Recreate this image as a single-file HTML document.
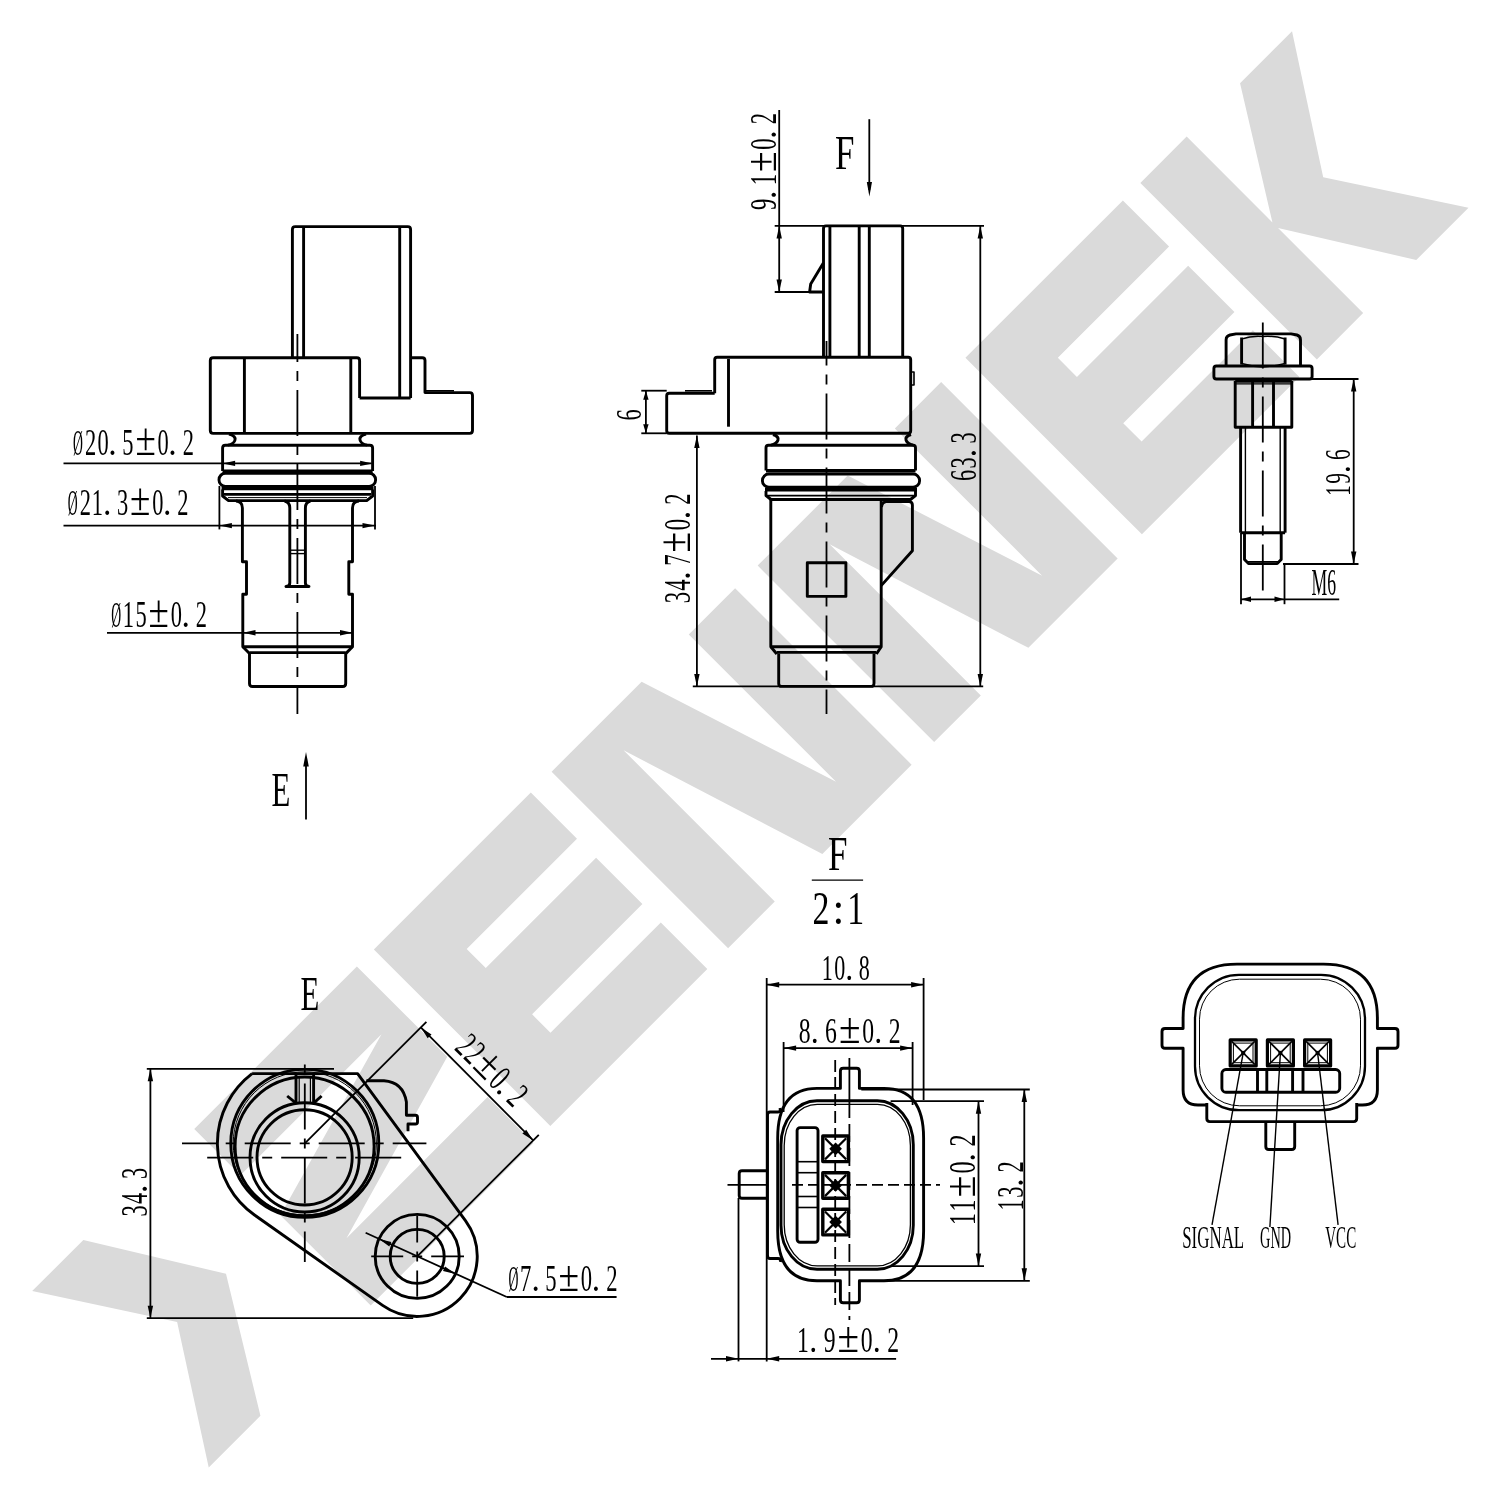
<!DOCTYPE html>
<html><head><meta charset="utf-8"><style>
html,body{margin:0;padding:0;background:#fff;}
svg{display:block;will-change:transform;}
text{fill:#000;stroke:none;text-anchor:start;}
</style></head><body>
<svg width="1500" height="1500" viewBox="0 0 1500 1500">
<rect width="1500" height="1500" fill="#fff"/>
<g transform="rotate(-45)" fill="#dadada">
<polygon points="-890.2,935.7 -817.8,935.7 -740.9,1060.5 -817.0,1185.3 -890.1,1185.3 -809.5,1060.0"/>
<polygon points="-661.0,935.7 -431.0,935.7 -431.0,1063.5 -630.5,1120.5 -431.0,1120.5 -431.0,1185.3 -661.0,1185.3 -661.0,1057.5 -461.5,1001.0 -661.0,1001.0"/>
<polygon points="-407.0,935.7 -185.0,935.7 -185.0,1001.0 -341.0,1001.0 -341.0,1028.0 -185.0,1028.0 -185.0,1093.5 -341.0,1093.5 -341.0,1119.5 -185.0,1119.5 -185.0,1185.3 -407.0,1185.3"/>
<polygon points="-155.6,935.7 -28.3,935.7 38.4,1144.0 38.4,935.7 103.9,935.7 103.9,1185.3 -22.3,1185.3 -89.6,971.5 -89.6,1185.3 -155.6,1185.3"/>
<polygon points="135.8,935.7 263.1,935.7 329.8,1144.0 329.8,935.7 395.3,935.7 395.3,1185.3 269.1,1185.3 201.8,971.5 201.8,1185.3 135.8,1185.3"/>
<polygon points="429.6,935.7 652.3,935.7 652.3,1001.0 495.0,1001.0 495.0,1028.0 652.3,1028.0 652.3,1093.5 495.0,1093.5 495.0,1119.5 652.3,1119.5 652.3,1185.3 429.6,1185.3"/>
<polygon points="677.0,935.7 742.5,935.7 742.5,1057.0 818.0,935.7 891.5,935.7 810.3,1061.0 891.5,1185.3 817.6,1185.3 742.5,1065.0 742.5,1185.3 677.0,1185.3"/>
</g>
<g stroke="#000" fill="none" stroke-linecap="butt" stroke-linejoin="round">
<path d="M292.4,357.8 V229.4 Q292.4,226.6 295.2,226.6 H407.8 Q410.6,226.6 410.6,229.4 V398" stroke-width="2.9" fill="none"/>
<line x1="303.6" y1="226.6" x2="303.6" y2="357.8" stroke-width="2.9"/>
<line x1="399.7" y1="226.6" x2="399.7" y2="398.0" stroke-width="2.9"/>
<path d="M359.6,398 V360.6 Q359.6,357.8 356.8,357.8 H213.1 Q210.3,357.8 210.3,360.6 V430.6 Q210.3,433.4 213.1,433.4 H469.7 Q472.5,433.4 472.5,430.6 V395.5 Q472.5,392.6 469.7,392.6 H425 V360.6 Q425,357.8 422.2,357.8 H410.6" stroke-width="2.9" fill="none"/>
<line x1="359.6" y1="398.0" x2="410.6" y2="398.0" stroke-width="2.9"/>
<line x1="244.4" y1="357.8" x2="244.4" y2="433.4" stroke-width="2.9"/>
<line x1="350.8" y1="357.8" x2="350.8" y2="433.4" stroke-width="2.9"/>
<line x1="426.0" y1="390.8" x2="454.0" y2="390.8" stroke-width="1.6"/>
<path d="M229,434 Q236,436 235,440 Q234,444 228,445.2" stroke-width="2.9" fill="none"/>
<path d="M366,434 Q359,436 360,440 Q361,444 367,445.2" stroke-width="2.9" fill="none"/>
<path d="M222.6,471 V448 Q222.6,445.2 225.4,445.2 H369.8 Q372.6,445.2 372.6,448 V471" stroke-width="2.9" fill="none"/>
<line x1="222.6" y1="471.3" x2="372.6" y2="471.3" stroke-width="3.6"/>
<rect x="219.0" y="473.2" width="156.6" height="13.2" rx="6.5" stroke-width="2.9" fill="none"/>
<line x1="221.6" y1="488.4" x2="373.6" y2="488.4" stroke-width="3.6"/>
<path d="M222.6,489.5 V496 L228.5,500.6 H366.7 L372.6,496 V489.5" stroke-width="2.9" fill="none"/>
<line x1="224.0" y1="494.4" x2="371.0" y2="494.4" stroke-width="2.6"/>
<line x1="228.0" y1="497.6" x2="367.0" y2="497.6" stroke-width="1.0"/>
<path d="M236,501 Q242.4,501.5 242.4,508 V561.7 H246.5 V594.3 H242.8 V646.8 H352.5 V594.3 H348.8 V561.7 H352.5 V508 Q352.5,501.5 359,501" stroke-width="2.9" fill="none"/>
<line x1="242.8" y1="646.8" x2="249.5" y2="653.6" stroke-width="2.9"/>
<line x1="352.5" y1="646.8" x2="345.7" y2="653.6" stroke-width="2.9"/>
<line x1="249.5" y1="652.6" x2="345.7" y2="652.6" stroke-width="2.9"/>
<path d="M249.5,653 V683.5 Q249.5,686.5 252.5,686.5 H342.7 Q345.7,686.5 345.7,683.5 V653" stroke-width="2.9" fill="none"/>
<path d="M284.5,501 Q289.8,502 289.8,508 V583 Q289.8,586 286,586.5 H309 Q305.4,586 305.4,583 V508 Q305.4,502 310.5,501" stroke-width="2.9" fill="none"/>
<line x1="289.8" y1="550.2" x2="305.4" y2="550.2" stroke-width="1.4"/>
<line x1="289.8" y1="553.6" x2="305.4" y2="553.6" stroke-width="1.4"/>
<line x1="297.4" y1="334.0" x2="297.4" y2="714.0" stroke-width="1.8" stroke-dasharray="46,9,10,9" stroke-dashoffset="18.1"/>
<line x1="63.5" y1="463.4" x2="371.5" y2="463.4" stroke-width="1.8"/>
<polygon points="222.6,463.4 235.1,460.7 235.1,466.1" fill="#000" stroke="none"/>
<polygon points="372.6,463.4 360.1,466.1 360.1,460.7" fill="#000" stroke="none"/>
<text transform="translate(78.0,455.3) scale(0.366,0.960)" x="-13.5" font-size="37.4" font-family="Liberation Serif">Ø</text><text transform="translate(90.5,455.3) scale(0.600,1.000)" x="-9.1" font-size="37.4" font-family="Liberation Serif">2</text><text transform="translate(103.0,455.3) scale(0.600,1.000)" x="-9.3" font-size="37.4" font-family="Liberation Serif">0</text><text transform="translate(112.5,455.3) scale(0.900,1.000)" x="-4.7" font-size="37.4" font-family="Liberation Serif">.</text><text transform="translate(128.1,455.3) scale(0.600,1.000)" x="-9.7" font-size="37.4" font-family="Liberation Serif">5</text><text transform="translate(145.6,455.3) scale(0.993,1.220)" x="-10.3" font-size="37.4" font-family="Liberation Serif">±</text><text transform="translate(163.1,455.3) scale(0.600,1.000)" x="-9.3" font-size="37.4" font-family="Liberation Serif">0</text><text transform="translate(172.6,455.3) scale(0.900,1.000)" x="-4.7" font-size="37.4" font-family="Liberation Serif">.</text><text transform="translate(188.1,455.3) scale(0.600,1.000)" x="-9.1" font-size="37.4" font-family="Liberation Serif">2</text>
<line x1="63.5" y1="525.6" x2="376.0" y2="525.6" stroke-width="1.8"/>
<line x1="219.4" y1="486.0" x2="219.4" y2="529.4" stroke-width="1.8"/>
<line x1="375.0" y1="486.0" x2="375.0" y2="529.4" stroke-width="1.8"/>
<polygon points="219.4,525.6 231.9,522.9 231.9,528.3" fill="#000" stroke="none"/>
<polygon points="375.0,525.6 362.5,528.3 362.5,522.9" fill="#000" stroke="none"/>
<text transform="translate(72.8,515.3) scale(0.366,0.960)" x="-13.5" font-size="37.4" font-family="Liberation Serif">Ø</text><text transform="translate(85.2,515.3) scale(0.600,1.000)" x="-9.1" font-size="37.4" font-family="Liberation Serif">2</text><text transform="translate(97.8,515.3) scale(0.600,1.000)" x="-9.9" font-size="37.4" font-family="Liberation Serif">1</text><text transform="translate(107.2,515.3) scale(0.900,1.000)" x="-4.7" font-size="37.4" font-family="Liberation Serif">.</text><text transform="translate(122.8,515.3) scale(0.600,1.000)" x="-9.5" font-size="37.4" font-family="Liberation Serif">3</text><text transform="translate(140.2,515.3) scale(0.993,1.220)" x="-10.3" font-size="37.4" font-family="Liberation Serif">±</text><text transform="translate(157.8,515.3) scale(0.600,1.000)" x="-9.3" font-size="37.4" font-family="Liberation Serif">0</text><text transform="translate(167.2,515.3) scale(0.900,1.000)" x="-4.7" font-size="37.4" font-family="Liberation Serif">.</text><text transform="translate(182.8,515.3) scale(0.600,1.000)" x="-9.1" font-size="37.4" font-family="Liberation Serif">2</text>
<line x1="107.0" y1="632.8" x2="352.5" y2="632.8" stroke-width="1.8"/>
<polygon points="243.0,632.8 255.5,630.1 255.5,635.5" fill="#000" stroke="none"/>
<polygon points="352.5,632.8 340.0,635.5 340.0,630.1" fill="#000" stroke="none"/>
<text transform="translate(116.2,626.5) scale(0.366,0.960)" x="-13.5" font-size="37.4" font-family="Liberation Serif">Ø</text><text transform="translate(128.8,626.5) scale(0.600,1.000)" x="-9.9" font-size="37.4" font-family="Liberation Serif">1</text><text transform="translate(141.2,626.5) scale(0.600,1.000)" x="-9.7" font-size="37.4" font-family="Liberation Serif">5</text><text transform="translate(158.8,626.5) scale(0.993,1.220)" x="-10.3" font-size="37.4" font-family="Liberation Serif">±</text><text transform="translate(176.2,626.5) scale(0.600,1.000)" x="-9.3" font-size="37.4" font-family="Liberation Serif">0</text><text transform="translate(185.8,626.5) scale(0.900,1.000)" x="-4.7" font-size="37.4" font-family="Liberation Serif">.</text><text transform="translate(201.2,626.5) scale(0.600,1.000)" x="-9.1" font-size="37.4" font-family="Liberation Serif">2</text>
<line x1="306.0" y1="758.0" x2="306.0" y2="819.5" stroke-width="1.8"/>
<polygon points="306.0,752.0 308.8,766.5 303.2,766.5" fill="#000" stroke="none"/>
<text transform="translate(280.5,806.0) scale(0.637,1.000)" x="-14.3" font-size="48.4" font-family="Liberation Serif">E</text>
<path d="M823.5,357.3 V228.4 Q823.5,225.9 826,225.9 H900.2 Q902.7,225.9 902.7,228.4 V357.3" stroke-width="2.9" fill="none"/>
<line x1="829.9" y1="225.9" x2="829.9" y2="357.3" stroke-width="2.9"/>
<line x1="859.2" y1="225.9" x2="859.2" y2="357.3" stroke-width="2.9"/>
<line x1="869.3" y1="225.9" x2="869.3" y2="357.3" stroke-width="2.9"/>
<path d="M823.5,262.7 L810.7,284 L809.6,292 H823.5" stroke-width="2.9" fill="none"/>
<line x1="774.7" y1="225.9" x2="984.0" y2="225.9" stroke-width="1.8"/>
<line x1="774.7" y1="292.0" x2="822.7" y2="292.0" stroke-width="1.8"/>
<line x1="779.2" y1="110.0" x2="779.2" y2="292.0" stroke-width="1.8"/>
<polygon points="779.2,225.9 781.9,238.4 776.5,238.4" fill="#000" stroke="none"/>
<polygon points="779.2,292.0 776.5,279.5 781.9,279.5" fill="#000" stroke="none"/>
<line x1="869.3" y1="119.2" x2="869.3" y2="190.0" stroke-width="1.8"/>
<polygon points="869.4,196.5 866.8,182.1 872.0,182.1" fill="#000" stroke="none"/>
<text transform="translate(844.5,169.3) scale(0.720,1.000)" x="-13.3" font-size="48.5" font-family="Liberation Serif">F</text>
<path d="M714.7,393.3 V359.8 Q714.7,357.3 717.2,357.3 H908.2 Q910.7,357.3 910.7,359.8 V430.8 Q910.7,433.3 908.2,433.3 H669.2 Q666.7,433.3 666.7,430.8 V395.8 Q666.7,393.3 669.2,393.3 H714.7" stroke-width="2.9" fill="none"/>
<line x1="685.0" y1="390.8" x2="712.0" y2="390.8" stroke-width="1.6"/>
<line x1="728.5" y1="359.0" x2="728.5" y2="426.7" stroke-width="2.9"/>
<rect x="911.2" y="372.0" width="2.8" height="13.0" rx="0" stroke-width="1.6" fill="none"/>
<path d="M773,434.5 Q779,436.5 778,440 Q777,443.5 771,445.2" stroke-width="2.9" fill="none"/>
<path d="M911,434.5 Q905,436.5 906,440 Q907,443.5 913,445.2" stroke-width="2.9" fill="none"/>
<path d="M766,470.6 V447.7 Q766,445.2 768.5,445.2 H913 Q915.5,445.2 915.5,447.7 V470.6" stroke-width="2.9" fill="none"/>
<line x1="766.0" y1="470.8" x2="915.5" y2="470.8" stroke-width="3.6"/>
<rect x="762.4" y="474.0" width="157.2" height="13.2" rx="6.5" stroke-width="2.9" fill="none"/>
<line x1="765.0" y1="489.6" x2="917.0" y2="489.6" stroke-width="3.6"/>
<path d="M766,491 V495.5 L771,499.5 H910.5 L915.5,495.5 V491" stroke-width="2.9" fill="none"/>
<line x1="767.0" y1="495.6" x2="914.0" y2="495.6" stroke-width="1.8"/>
<path d="M770.8,499.5 V646.8 H881.2 V499.5" stroke-width="2.9" fill="none"/>
<path d="M881.2,585.6 L912.4,550.8 V505 Q912.4,501.6 909,501.6 H886 Q882,502.5 881.5,507" stroke-width="2.9" fill="none"/>
<line x1="770.8" y1="646.8" x2="776.8" y2="654.0" stroke-width="2.9"/>
<line x1="881.2" y1="646.8" x2="876.4" y2="654.0" stroke-width="2.9"/>
<line x1="776.8" y1="652.4" x2="876.4" y2="652.4" stroke-width="2.9"/>
<path d="M778.7,653.5 V683.4 Q778.7,686.4 781.7,686.4 H871 Q874,686.4 874,683.4 V653.5" stroke-width="2.9" fill="none"/>
<rect x="807.3" y="562.8" width="38.6" height="33.6" rx="0" stroke-width="2.9" fill="none"/>
<line x1="826.5" y1="341.0" x2="826.5" y2="714.0" stroke-width="1.8" stroke-dasharray="46,9,10,9" stroke-dashoffset="21.6"/>
<line x1="696.9" y1="435.6" x2="696.9" y2="686.4" stroke-width="1.8"/>
<polygon points="696.9,435.6 699.6,448.1 694.2,448.1" fill="#000" stroke="none"/>
<polygon points="696.9,686.4 694.2,673.9 699.6,673.9" fill="#000" stroke="none"/>
<line x1="692.8" y1="686.4" x2="983.2" y2="686.4" stroke-width="1.8"/>
<line x1="980.3" y1="225.9" x2="980.3" y2="686.4" stroke-width="1.8"/>
<polygon points="980.3,225.9 983.0,238.4 977.6,238.4" fill="#000" stroke="none"/>
<polygon points="980.3,686.4 977.6,673.9 983.0,673.9" fill="#000" stroke="none"/>
<line x1="645.9" y1="390.7" x2="645.9" y2="433.3" stroke-width="1.8"/>
<polygon points="645.9,390.7 648.6,399.7 643.2,399.7" fill="#000" stroke="none"/>
<polygon points="645.9,433.3 643.2,424.3 648.6,424.3" fill="#000" stroke="none"/>
<line x1="641.3" y1="390.7" x2="666.7" y2="390.7" stroke-width="1.8"/>
<line x1="641.3" y1="433.3" x2="666.7" y2="433.3" stroke-width="1.8"/>
<g transform="rotate(-90 776.0 209.3)"><text transform="translate(780.8,209.3) scale(0.612,1.000)" x="-9.1" font-size="37.0" font-family="Liberation Serif">9</text><text transform="translate(790.4,209.3) scale(0.900,1.000)" x="-4.6" font-size="37.0" font-family="Liberation Serif">.</text><text transform="translate(806.0,209.3) scale(0.612,1.000)" x="-9.7" font-size="37.0" font-family="Liberation Serif">1</text><text transform="translate(823.6,209.3) scale(1.013,1.220)" x="-10.1" font-size="37.0" font-family="Liberation Serif">±</text><text transform="translate(841.3,209.3) scale(0.612,1.000)" x="-9.2" font-size="37.0" font-family="Liberation Serif">0</text><text transform="translate(850.8,209.3) scale(0.900,1.000)" x="-4.6" font-size="37.0" font-family="Liberation Serif">.</text><text transform="translate(866.5,209.3) scale(0.612,1.000)" x="-9.0" font-size="37.0" font-family="Liberation Serif">2</text></g>
<g transform="rotate(-90 641.0 419.5)"><text transform="translate(645.8,419.5) scale(0.633,1.000)" x="-9.1" font-size="35.5" font-family="Liberation Serif">6</text></g>
<g transform="rotate(-90 690.4 602.4)"><text transform="translate(695.2,602.4) scale(0.589,1.000)" x="-9.8" font-size="38.5" font-family="Liberation Serif">3</text><text transform="translate(707.8,602.4) scale(0.589,1.000)" x="-9.7" font-size="38.5" font-family="Liberation Serif">4</text><text transform="translate(717.4,602.4) scale(0.900,1.000)" x="-4.8" font-size="38.5" font-family="Liberation Serif">.</text><text transform="translate(733.0,602.4) scale(0.589,1.000)" x="-10.3" font-size="38.5" font-family="Liberation Serif">7</text><text transform="translate(750.6,602.4) scale(0.974,1.220)" x="-10.5" font-size="38.5" font-family="Liberation Serif">±</text><text transform="translate(768.3,602.4) scale(0.589,1.000)" x="-9.6" font-size="38.5" font-family="Liberation Serif">0</text><text transform="translate(777.8,602.4) scale(0.900,1.000)" x="-4.8" font-size="38.5" font-family="Liberation Serif">.</text><text transform="translate(793.5,602.4) scale(0.589,1.000)" x="-9.4" font-size="38.5" font-family="Liberation Serif">2</text></g>
<g transform="rotate(-90 976.0 480.0)"><text transform="translate(980.8,480.0) scale(0.607,1.000)" x="-9.5" font-size="37.0" font-family="Liberation Serif">6</text><text transform="translate(993.2,480.0) scale(0.607,1.000)" x="-9.4" font-size="37.0" font-family="Liberation Serif">3</text><text transform="translate(1002.8,480.0) scale(0.900,1.000)" x="-4.6" font-size="37.0" font-family="Liberation Serif">.</text><text transform="translate(1018.2,480.0) scale(0.607,1.000)" x="-9.4" font-size="37.0" font-family="Liberation Serif">3</text></g>
<path d="M1226.1,366 V340 Q1226.1,336 1230,335 L1236,333.9 H1291 L1297,335 Q1300.5,336 1300.5,340 V366" stroke-width="2.9" fill="none"/>
<line x1="1241.6" y1="337.5" x2="1241.6" y2="364.5" stroke-width="2.9"/>
<line x1="1285.1" y1="337.5" x2="1285.1" y2="364.5" stroke-width="2.9"/>
<path d="M1241.6,339 Q1252,335.5 1262.8,336.5 Q1274,335.5 1285.1,339" stroke-width="1.4" fill="none"/>
<path d="M1241.6,363.5 Q1252,366.5 1262.8,367 Q1274,366.5 1285.1,363.5" stroke-width="1.4" fill="none"/>
<rect x="1213.9" y="366.0" width="98.2" height="13.0" rx="2.5" stroke-width="2.9" fill="none"/>
<path d="M1235.2,381 V427.3 H1291.8 V381" stroke-width="2.9" fill="none"/>
<line x1="1235.2" y1="381.2" x2="1291.8" y2="381.2" stroke-width="2.9"/>
<line x1="1236.0" y1="383.8" x2="1291.0" y2="383.8" stroke-width="1.2"/>
<line x1="1252.6" y1="382.0" x2="1252.6" y2="427.3" stroke-width="2.9"/>
<line x1="1273.5" y1="382.0" x2="1273.5" y2="427.3" stroke-width="2.9"/>
<line x1="1240.6" y1="427.3" x2="1240.6" y2="532.7" stroke-width="2.9"/>
<line x1="1285.1" y1="427.3" x2="1285.1" y2="532.7" stroke-width="2.9"/>
<line x1="1245.4" y1="427.3" x2="1245.4" y2="532.7" stroke-width="1.4"/>
<line x1="1280.2" y1="427.3" x2="1280.2" y2="532.7" stroke-width="1.4"/>
<line x1="1240.6" y1="532.7" x2="1285.1" y2="532.7" stroke-width="2.9"/>
<path d="M1244.5,532.7 V559.5 L1248.5,563.6 H1277.2 L1281.2,559.5 V532.7" stroke-width="2.9" fill="none"/>
<line x1="1246.0" y1="561.8" x2="1280.0" y2="561.8" stroke-width="1.6"/>
<line x1="1262.8" y1="320.0" x2="1262.8" y2="592.6" stroke-width="1.8" stroke-dasharray="46,9,10,9" stroke-dashoffset="71.6"/>
<line x1="1312.0" y1="379.0" x2="1358.5" y2="379.0" stroke-width="1.8"/>
<line x1="1283.0" y1="564.0" x2="1358.5" y2="564.0" stroke-width="1.8"/>
<line x1="1353.7" y1="379.0" x2="1353.7" y2="564.0" stroke-width="1.8"/>
<polygon points="1353.7,379.0 1356.4,391.5 1351.0,391.5" fill="#000" stroke="none"/>
<polygon points="1353.7,564.0 1351.0,551.5 1356.4,551.5" fill="#000" stroke="none"/>
<g transform="rotate(-90 1349.8 495.0)"><text transform="translate(1354.4,495.0) scale(0.595,1.000)" x="-9.5" font-size="36.2" font-family="Liberation Serif">1</text><text transform="translate(1366.4,495.0) scale(0.595,1.000)" x="-8.9" font-size="36.2" font-family="Liberation Serif">9</text><text transform="translate(1375.5,495.0) scale(0.900,1.000)" x="-4.5" font-size="36.2" font-family="Liberation Serif">.</text><text transform="translate(1390.4,495.0) scale(0.595,1.000)" x="-9.3" font-size="36.2" font-family="Liberation Serif">6</text></g>
<line x1="1241.0" y1="532.7" x2="1241.0" y2="604.2" stroke-width="1.8"/>
<line x1="1284.5" y1="564.0" x2="1284.5" y2="604.2" stroke-width="1.8"/>
<line x1="1241.0" y1="599.3" x2="1339.2" y2="599.3" stroke-width="1.8"/>
<polygon points="1241.0,599.3 1251.0,596.6 1251.0,602.0" fill="#000" stroke="none"/>
<polygon points="1284.5,599.3 1274.5,602.0 1274.5,596.6" fill="#000" stroke="none"/>
<text x="1311.5" y="594.6" font-size="36.9" font-family="Liberation Serif" textLength="24.5" lengthAdjust="spacingAndGlyphs">M6</text>
<path d="M252.1,1073.6 H357.6 L465.6,1220.9 A60.0,60.0 0 0 1 382.6,1305.4 L254.5,1215.0 A87.6,87.6 0 0 1 252.1,1073.6" stroke-width="2.9" fill="none"/>
<circle cx="304.8" cy="1143.4" r="74.0" stroke-width="2.9" fill="none"/>
<circle cx="304.8" cy="1143.4" r="71.6" stroke-width="1.0" fill="none"/>
<circle cx="304.6" cy="1146.5" r="69.5" stroke-width="2.9" fill="none"/>
<circle cx="304.6" cy="1157.4" r="54.6" stroke-width="2.9" fill="none"/>
<circle cx="304.6" cy="1157.4" r="47.6" stroke-width="2.9" fill="none"/>
<line x1="296.0" y1="1075.0" x2="296.0" y2="1103.2" stroke-width="2.9"/>
<line x1="313.6" y1="1075.0" x2="313.6" y2="1103.2" stroke-width="2.9"/>
<line x1="299.2" y1="1076.0" x2="299.2" y2="1103.0" stroke-width="1.2"/>
<line x1="310.4" y1="1076.0" x2="310.4" y2="1103.0" stroke-width="1.2"/>
<line x1="287.2" y1="1096.0" x2="296.0" y2="1103.2" stroke-width="2.9"/>
<line x1="321.6" y1="1096.0" x2="313.6" y2="1103.2" stroke-width="2.9"/>
<path d="M366.4,1080.8 H384 Q403,1082 406.4,1102 V1115.2 H415.5 Q417.5,1115.2 417.5,1117.5 V1122 Q417.5,1124 415.5,1124 H408 V1131.2" stroke-width="2.9" fill="none"/>
<circle cx="417.2" cy="1256.4" r="42.0" stroke-width="2.9" fill="none"/>
<circle cx="417.2" cy="1256.4" r="27.0" stroke-width="2.9" fill="none"/>
<line x1="182.0" y1="1143.4" x2="426.4" y2="1143.4" stroke-width="1.8" stroke-dasharray="46,9,10,9" stroke-dashoffset="11.3"/>
<line x1="203.2" y1="1157.6" x2="405.6" y2="1157.6" stroke-width="1.8" stroke-dasharray="46,9,10,9" stroke-dashoffset="70.0"/>
<line x1="304.8" y1="1056.0" x2="304.8" y2="1262.0" stroke-width="1.8" stroke-dasharray="46,9,10,9" stroke-dashoffset="46.6"/>
<line x1="371.2" y1="1256.4" x2="464.0" y2="1256.4" stroke-width="1.8" stroke-dasharray="46,9,10,9" stroke-dashoffset="14.0"/>
<line x1="417.2" y1="1215.6" x2="417.2" y2="1296.8" stroke-width="1.8" stroke-dasharray="46,9,10,9" stroke-dashoffset="19.2"/>
<line x1="146.8" y1="1068.8" x2="334.0" y2="1068.8" stroke-width="1.8"/>
<line x1="146.8" y1="1318.2" x2="413.2" y2="1318.2" stroke-width="1.8"/>
<line x1="150.4" y1="1068.8" x2="150.4" y2="1318.2" stroke-width="1.8"/>
<polygon points="150.4,1068.8 153.1,1081.3 147.7,1081.3" fill="#000" stroke="none"/>
<polygon points="150.4,1318.2 147.7,1305.7 153.1,1305.7" fill="#000" stroke="none"/>
<g transform="rotate(-90 146.8 1215.6)"><text transform="translate(151.6,1215.6) scale(0.607,1.000)" x="-9.4" font-size="37.0" font-family="Liberation Serif">3</text><text transform="translate(164.1,1215.6) scale(0.607,1.000)" x="-9.3" font-size="37.0" font-family="Liberation Serif">4</text><text transform="translate(173.6,1215.6) scale(0.900,1.000)" x="-4.6" font-size="37.0" font-family="Liberation Serif">.</text><text transform="translate(189.1,1215.6) scale(0.607,1.000)" x="-9.4" font-size="37.0" font-family="Liberation Serif">3</text></g>
<line x1="304.8" y1="1143.4" x2="426.4" y2="1021.8" stroke-width="1.8"/>
<line x1="417.2" y1="1256.4" x2="538.8" y2="1134.8" stroke-width="1.8"/>
<line x1="420.8" y1="1027.4" x2="533.2" y2="1140.4" stroke-width="1.8"/>
<polygon points="420.8,1027.4 431.5,1034.4 427.7,1038.2" fill="#000" stroke="none"/>
<polygon points="533.2,1140.4 522.4,1133.5 526.2,1129.7" fill="#000" stroke="none"/>
<g transform="translate(454.0,1049.4) rotate(45)"><text transform="translate(4.8,0.0) scale(0.612,1.000)" x="-9.0" font-size="37.0" font-family="Liberation Serif">2</text><text transform="translate(17.4,0.0) scale(0.612,1.000)" x="-9.0" font-size="37.0" font-family="Liberation Serif">2</text><text transform="translate(35.0,0.0) scale(1.013,1.220)" x="-10.1" font-size="37.0" font-family="Liberation Serif">±</text><text transform="translate(52.7,0.0) scale(0.612,1.000)" x="-9.2" font-size="37.0" font-family="Liberation Serif">0</text><text transform="translate(62.2,0.0) scale(0.900,1.000)" x="-4.6" font-size="37.0" font-family="Liberation Serif">.</text><text transform="translate(77.9,0.0) scale(0.612,1.000)" x="-9.0" font-size="37.0" font-family="Liberation Serif">2</text></g>
<line x1="365.6" y1="1232.8" x2="506.8" y2="1297.0" stroke-width="1.8"/>
<line x1="506.8" y1="1297.0" x2="616.6" y2="1297.0" stroke-width="1.8"/>
<polygon points="379.0,1238.9 391.4,1241.9 389.3,1246.4" fill="#000" stroke="none"/>
<polygon points="455.4,1273.9 443.0,1270.9 445.1,1266.4" fill="#000" stroke="none"/>
<text transform="translate(513.4,1291.2) scale(0.373,0.960)" x="-13.3" font-size="37.0" font-family="Liberation Serif">Ø</text><text transform="translate(526.0,1291.2) scale(0.612,1.000)" x="-9.9" font-size="37.0" font-family="Liberation Serif">7</text><text transform="translate(535.6,1291.2) scale(0.900,1.000)" x="-4.6" font-size="37.0" font-family="Liberation Serif">.</text><text transform="translate(551.2,1291.2) scale(0.612,1.000)" x="-9.6" font-size="37.0" font-family="Liberation Serif">5</text><text transform="translate(568.8,1291.2) scale(1.013,1.220)" x="-10.1" font-size="37.0" font-family="Liberation Serif">±</text><text transform="translate(586.5,1291.2) scale(0.612,1.000)" x="-9.2" font-size="37.0" font-family="Liberation Serif">0</text><text transform="translate(596.0,1291.2) scale(0.900,1.000)" x="-4.6" font-size="37.0" font-family="Liberation Serif">.</text><text transform="translate(611.7,1291.2) scale(0.612,1.000)" x="-9.0" font-size="37.0" font-family="Liberation Serif">2</text>
<text transform="translate(309.5,1010.0) scale(0.635,1.000)" x="-14.3" font-size="48.5" font-family="Liberation Serif">E</text>
<text transform="translate(837.5,869.5) scale(0.727,1.000)" x="-13.2" font-size="48.1" font-family="Liberation Serif">F</text>
<line x1="811.8" y1="880.2" x2="863.1" y2="880.2" stroke-width="1.2"/>
<text transform="translate(820.7,923.9) scale(0.716,1.000)" x="-11.6" font-size="47.3" font-family="Liberation Serif">2</text><text transform="translate(838.4,923.9) scale(0.900,1.000)" x="-6.5" font-size="47.3" font-family="Liberation Serif">:</text><text transform="translate(856.1,923.9) scale(0.716,1.000)" x="-12.5" font-size="47.3" font-family="Liberation Serif">1</text>
<text transform="translate(827.5,980.3) scale(0.622,1.000)" x="-9.4" font-size="35.5" font-family="Liberation Serif">1</text><text transform="translate(839.8,980.3) scale(0.622,1.000)" x="-8.9" font-size="35.5" font-family="Liberation Serif">0</text><text transform="translate(849.1,980.3) scale(0.900,1.000)" x="-4.4" font-size="35.5" font-family="Liberation Serif">.</text><text transform="translate(864.4,980.3) scale(0.622,1.000)" x="-8.9" font-size="35.5" font-family="Liberation Serif">8</text>
<line x1="766.7" y1="984.7" x2="923.6" y2="984.7" stroke-width="1.8"/>
<polygon points="766.7,984.7 779.2,982.0 779.2,987.4" fill="#000" stroke="none"/>
<polygon points="923.6,984.7 911.1,987.4 911.1,982.0" fill="#000" stroke="none"/>
<line x1="766.7" y1="978.0" x2="766.7" y2="1361.4" stroke-width="1.8"/>
<line x1="923.6" y1="978.0" x2="923.6" y2="1100.0" stroke-width="1.8"/>
<text transform="translate(804.7,1042.6) scale(0.668,1.000)" x="-8.9" font-size="35.5" font-family="Liberation Serif">8</text><text transform="translate(814.7,1042.6) scale(0.900,1.000)" x="-4.4" font-size="35.5" font-family="Liberation Serif">.</text><text transform="translate(831.1,1042.6) scale(0.668,1.000)" x="-9.1" font-size="35.5" font-family="Liberation Serif">6</text><text transform="translate(849.6,1042.6) scale(1.106,1.220)" x="-9.7" font-size="35.5" font-family="Liberation Serif">±</text><text transform="translate(868.1,1042.6) scale(0.668,1.000)" x="-8.9" font-size="35.5" font-family="Liberation Serif">0</text><text transform="translate(878.1,1042.6) scale(0.900,1.000)" x="-4.4" font-size="35.5" font-family="Liberation Serif">.</text><text transform="translate(894.5,1042.6) scale(0.668,1.000)" x="-8.7" font-size="35.5" font-family="Liberation Serif">2</text>
<line x1="783.6" y1="1048.1" x2="912.6" y2="1048.1" stroke-width="1.8"/>
<polygon points="783.6,1048.1 796.1,1045.4 796.1,1050.8" fill="#000" stroke="none"/>
<polygon points="912.6,1048.1 900.1,1050.8 900.1,1045.4" fill="#000" stroke="none"/>
<line x1="783.6" y1="1042.0" x2="783.6" y2="1112.0" stroke-width="1.8"/>
<line x1="912.6" y1="1042.0" x2="912.6" y2="1105.0" stroke-width="1.8"/>
<path d="M840.4,1088.4 V1071 Q840.4,1068.2 843.2,1068.2 H856.6 Q859.4,1068.2 859.4,1071 V1088.4 H884 Q923.6,1088.4 923.6,1138 V1231 Q923.6,1280.8 884,1280.8 H859.4 V1300 Q859.4,1302.8 856.6,1302.8 H843.2 Q840.4,1302.8 840.4,1300 V1280.8 H817 Q777.7,1280.8 777.7,1231 V1138 Q777.7,1088.4 817,1088.4 Z" stroke-width="2.9" fill="none"/>
<path d="M780,1108 Q781,1112 778,1112 H770 Q767.5,1112 767.5,1115 V1255.5 Q767.5,1258.5 770,1258.5 H778 Q781,1258.5 780.5,1262" stroke-width="2.9" fill="none"/>
<path d="M767.8,1170.8 H742 Q739.2,1170.8 739.2,1173.6 V1195.5 Q739.2,1198.3 742,1198.3 H767.8" stroke-width="2.9" fill="none"/>
<rect x="781.0" y="1100.8" width="132.3" height="168.4" rx="36" ry="44" fill="none" stroke-width="2.9"/>
<rect x="784.2" y="1104.4" width="126.2" height="161.4" rx="33" ry="41" fill="none" stroke-width="1.3"/>
<rect x="797.1" y="1127.6" width="20.9" height="114.7" rx="3" stroke-width="2.9" fill="none"/>
<line x1="797.1" y1="1161.7" x2="818.0" y2="1161.7" stroke-width="1.6"/>
<line x1="797.1" y1="1172.7" x2="818.0" y2="1172.7" stroke-width="1.6"/>
<line x1="797.1" y1="1196.5" x2="818.0" y2="1196.5" stroke-width="1.6"/>
<line x1="797.1" y1="1207.5" x2="818.0" y2="1207.5" stroke-width="1.6"/>
<rect x="822.8" y="1136.0" width="25.6" height="25.6" rx="0" stroke-width="3.4" fill="none"/>
<line x1="825.0" y1="1138.2" x2="846.2" y2="1159.4" stroke-width="2.2"/>
<line x1="846.2" y1="1138.2" x2="825.0" y2="1159.4" stroke-width="2.2"/>
<rect x="831.1" y="1144.3" width="9" height="9" fill="#000" stroke="none" transform="rotate(45 835.6 1148.8)"/>
<rect x="822.8" y="1172.7" width="25.6" height="25.6" rx="0" stroke-width="3.4" fill="none"/>
<line x1="825.0" y1="1174.9" x2="846.2" y2="1196.1" stroke-width="2.2"/>
<line x1="846.2" y1="1174.9" x2="825.0" y2="1196.1" stroke-width="2.2"/>
<rect x="831.1" y="1181.0" width="9" height="9" fill="#000" stroke="none" transform="rotate(45 835.6 1185.5)"/>
<rect x="822.8" y="1209.3" width="25.6" height="25.6" rx="0" stroke-width="3.4" fill="none"/>
<line x1="825.0" y1="1211.5" x2="846.2" y2="1232.7" stroke-width="2.2"/>
<line x1="846.2" y1="1211.5" x2="825.0" y2="1232.7" stroke-width="2.2"/>
<rect x="831.1" y="1217.6" width="9" height="9" fill="#000" stroke="none" transform="rotate(45 835.6 1222.1)"/>
<line x1="835.2" y1="1060.0" x2="835.2" y2="1305.0" stroke-width="1.8" stroke-dasharray="12,5"/>
<line x1="849.4" y1="1058.0" x2="849.4" y2="1100.0" stroke-width="1.8"/>
<line x1="849.4" y1="1100.0" x2="849.4" y2="1320.0" stroke-width="1.8" stroke-dasharray="18,6"/>
<line x1="727.5" y1="1184.8" x2="767.5" y2="1184.8" stroke-width="1.8"/>
<line x1="792.0" y1="1184.8" x2="940.0" y2="1184.8" stroke-width="1.8" stroke-dasharray="11,5"/>
<line x1="861.3" y1="1089.5" x2="1029.8" y2="1089.5" stroke-width="1.8"/>
<line x1="861.3" y1="1280.8" x2="1029.8" y2="1280.8" stroke-width="1.8"/>
<line x1="1024.3" y1="1089.5" x2="1024.3" y2="1280.8" stroke-width="1.8"/>
<polygon points="1024.3,1089.5 1027.0,1102.0 1021.6,1102.0" fill="#000" stroke="none"/>
<polygon points="1024.3,1280.8 1021.6,1268.3 1027.0,1268.3" fill="#000" stroke="none"/>
<g transform="rotate(-90 1022.5 1209.3)"><text transform="translate(1027.2,1209.3) scale(0.607,1.000)" x="-9.7" font-size="37.0" font-family="Liberation Serif">1</text><text transform="translate(1039.8,1209.3) scale(0.607,1.000)" x="-9.4" font-size="37.0" font-family="Liberation Serif">3</text><text transform="translate(1049.2,1209.3) scale(0.900,1.000)" x="-4.6" font-size="37.0" font-family="Liberation Serif">.</text><text transform="translate(1064.8,1209.3) scale(0.607,1.000)" x="-9.0" font-size="37.0" font-family="Liberation Serif">2</text></g>
<line x1="890.6" y1="1101.2" x2="984.0" y2="1101.2" stroke-width="1.8"/>
<line x1="890.6" y1="1266.1" x2="984.0" y2="1266.1" stroke-width="1.8"/>
<line x1="978.5" y1="1101.2" x2="978.5" y2="1266.1" stroke-width="1.8"/>
<polygon points="978.5,1101.2 981.2,1113.7 975.8,1113.7" fill="#000" stroke="none"/>
<polygon points="978.5,1266.1 975.8,1253.6 981.2,1253.6" fill="#000" stroke="none"/>
<g transform="rotate(-90 974.9 1224.0)"><text transform="translate(980.0,1224.0) scale(0.656,1.000)" x="-9.7" font-size="37.0" font-family="Liberation Serif">1</text><text transform="translate(993.5,1224.0) scale(0.656,1.000)" x="-9.7" font-size="37.0" font-family="Liberation Serif">1</text><text transform="translate(1012.4,1224.0) scale(1.086,1.220)" x="-10.1" font-size="37.0" font-family="Liberation Serif">±</text><text transform="translate(1031.3,1224.0) scale(0.656,1.000)" x="-9.2" font-size="37.0" font-family="Liberation Serif">0</text><text transform="translate(1041.6,1224.0) scale(0.900,1.000)" x="-4.6" font-size="37.0" font-family="Liberation Serif">.</text><text transform="translate(1058.3,1224.0) scale(0.656,1.000)" x="-9.0" font-size="37.0" font-family="Liberation Serif">2</text></g>
<line x1="738.5" y1="1198.0" x2="738.5" y2="1361.4" stroke-width="1.8"/>
<line x1="711.0" y1="1358.8" x2="896.1" y2="1358.8" stroke-width="1.8"/>
<polygon points="738.5,1358.8 726.0,1361.5 726.0,1356.1" fill="#000" stroke="none"/>
<polygon points="766.7,1358.8 779.2,1356.1 779.2,1361.5" fill="#000" stroke="none"/>
<text transform="translate(803.2,1352.3) scale(0.668,1.000)" x="-9.4" font-size="35.5" font-family="Liberation Serif">1</text><text transform="translate(813.2,1352.3) scale(0.900,1.000)" x="-4.4" font-size="35.5" font-family="Liberation Serif">.</text><text transform="translate(829.6,1352.3) scale(0.668,1.000)" x="-8.7" font-size="35.5" font-family="Liberation Serif">9</text><text transform="translate(848.1,1352.3) scale(1.106,1.220)" x="-9.7" font-size="35.5" font-family="Liberation Serif">±</text><text transform="translate(866.6,1352.3) scale(0.668,1.000)" x="-8.9" font-size="35.5" font-family="Liberation Serif">0</text><text transform="translate(876.6,1352.3) scale(0.900,1.000)" x="-4.4" font-size="35.5" font-family="Liberation Serif">.</text><text transform="translate(893.0,1352.3) scale(0.668,1.000)" x="-8.7" font-size="35.5" font-family="Liberation Serif">2</text>
<path d="M1206.8,1105 H1198 Q1183.1,1105 1183.1,1090 V1048.2 H1165 Q1162,1048.2 1162,1045.2 V1031.5 Q1162,1028.5 1165,1028.5 H1183.1 V1018 Q1183.1,964.1 1237,964.1 H1323.5 Q1377.4,964.1 1377.4,1018 V1028.5 H1395 Q1398,1028.5 1398,1031.5 V1045.2 Q1398,1048.2 1395,1048.2 H1377.4 V1090 Q1377.4,1105 1362.5,1105 H1356.7" stroke-width="2.9" fill="none"/>
<path d="M1206.8,1103 V1118.6 Q1206.8,1121.6 1209.8,1121.6 H1353.7 Q1356.7,1121.6 1356.7,1118.6 V1103" stroke-width="2.9" fill="none"/>
<path d="M1265.8,1121.6 V1146.5 Q1265.8,1149.5 1268.8,1149.5 H1291.7 Q1294.7,1149.5 1294.7,1146.5 V1121.6" stroke-width="2.9" fill="none"/>
<rect x="1195" y="974.8" width="170" height="135.4" rx="44" fill="none" stroke-width="2.3"/>
<rect x="1199.5" y="979.2" width="161" height="126.6" rx="40" fill="none" stroke-width="1.0"/>
<rect x="1230.2" y="1039.9" width="26.0" height="26.0" rx="0" stroke-width="3.2" fill="none"/>
<rect x="1233.4" y="1043.1" width="19.6" height="19.6" fill="none" stroke-width="1.0"/>
<line x1="1231.7" y1="1041.4" x2="1254.7" y2="1064.4" stroke-width="1.6"/>
<line x1="1254.7" y1="1041.4" x2="1231.7" y2="1064.4" stroke-width="1.6"/>
<rect x="1241.2" y="1050.9" width="4" height="4" fill="#000" stroke="none"/>
<rect x="1267.4" y="1039.9" width="26.0" height="26.0" rx="0" stroke-width="3.2" fill="none"/>
<rect x="1270.6" y="1043.1" width="19.6" height="19.6" fill="none" stroke-width="1.0"/>
<line x1="1268.9" y1="1041.4" x2="1291.9" y2="1064.4" stroke-width="1.6"/>
<line x1="1291.9" y1="1041.4" x2="1268.9" y2="1064.4" stroke-width="1.6"/>
<rect x="1278.4" y="1050.9" width="4" height="4" fill="#000" stroke="none"/>
<rect x="1304.6" y="1039.9" width="26.0" height="26.0" rx="0" stroke-width="3.2" fill="none"/>
<rect x="1307.8" y="1043.1" width="19.6" height="19.6" fill="none" stroke-width="1.0"/>
<line x1="1306.1" y1="1041.4" x2="1329.1" y2="1064.4" stroke-width="1.6"/>
<line x1="1329.1" y1="1041.4" x2="1306.1" y2="1064.4" stroke-width="1.6"/>
<rect x="1315.6" y="1050.9" width="4" height="4" fill="#000" stroke="none"/>
<rect x="1221.9" y="1069.5" width="117.8" height="22.7" rx="4" stroke-width="2.9" fill="none"/>
<line x1="1257.5" y1="1069.5" x2="1257.5" y2="1092.2" stroke-width="2.9"/>
<line x1="1266.8" y1="1069.5" x2="1266.8" y2="1092.2" stroke-width="2.9"/>
<line x1="1292.6" y1="1069.5" x2="1292.6" y2="1092.2" stroke-width="2.9"/>
<line x1="1303.0" y1="1069.5" x2="1303.0" y2="1092.2" stroke-width="2.9"/>
<line x1="1243.2" y1="1052.9" x2="1212.0" y2="1224.9" stroke-width="1.4"/>
<line x1="1280.4" y1="1052.9" x2="1269.9" y2="1227.0" stroke-width="1.4"/>
<line x1="1317.6" y1="1052.9" x2="1338.1" y2="1224.9" stroke-width="1.4"/>
<text x="1182.2" y="1247.7" font-size="30.5" font-family="Liberation Serif" textLength="62.0" lengthAdjust="spacingAndGlyphs">SIGNAL</text>
<text x="1260.1" y="1247.7" font-size="30.5" font-family="Liberation Serif" textLength="31.0" lengthAdjust="spacingAndGlyphs">GND</text>
<text x="1325.2" y="1247.7" font-size="30.5" font-family="Liberation Serif" textLength="31.0" lengthAdjust="spacingAndGlyphs">VCC</text>
</g>
</svg>
</body></html>
